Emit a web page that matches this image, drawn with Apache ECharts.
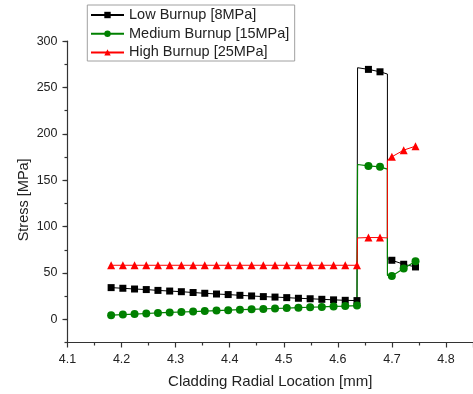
<!DOCTYPE html>
<html>
<head>
<meta charset="utf-8">
<script src="https://cdn.jsdelivr.net/npm/echarts@6/dist/echarts.min.js"></script>
<style>
html,body{margin:0;padding:0;background:#fff;}
#chart{width:473px;height:394px;}
</style>
</head>
<body>
<div id="chart"></div>
<script>
// Radial locations of the plotted (marker) points [mm]
const radius = [4.1807, 4.2024, 4.2240, 4.2457, 4.2673, 4.2890, 4.3106, 4.3323, 4.3539, 4.3756, 4.3972,
  4.4189, 4.4405, 4.4622, 4.4838, 4.5055, 4.5271, 4.5488, 4.5704, 4.5921, 4.6137, 4.6354,
  4.6566, 4.6780, 4.6999, 4.7218, 4.7437];
// Material interface locations [mm]
const interfaces = [4.6365, 4.6917];

// Stress values at marker points [MPa]
const lowBurnup = [34.2, 33.5, 32.7, 32.1, 31.2, 30.5, 29.8, 28.9, 28.1, 27.3, 26.7,
  25.9, 25.2, 24.5, 24.0, 23.4, 22.7, 22.2, 21.6, 21.0, 20.5, 20.2,
  269.6, 267.0, 63.7, 59.4, 56.5];
const mediumBurnup = [4.5, 5.1, 5.7, 6.3, 6.9, 7.4, 7.9, 8.4, 8.9, 9.4, 9.9,
  10.4, 10.8, 11.2, 11.7, 12.1, 12.6, 13.0, 13.4, 13.9, 14.3, 14.8,
  165.5, 164.5, 46.8, 54.7, 62.6];
const highBurnup = [58.3, 58.3, 58.3, 58.3, 58.3, 58.3, 58.3, 58.3, 58.3, 58.3, 58.3,
  58.3, 58.3, 58.3, 58.3, 58.3, 58.3, 58.3, 58.3, 58.3, 58.3, 58.3,
  88.2, 88.2, 175.3, 182.5, 186.8];

// Stress at the interfaces: [after interface 1, before interface 2, after interface 2]
const lowInterface = [271.4, 264.6, 65.5];
const mediumInterface = [167.0, 162.0, 47.5];
const highInterface = [87.8, 87.8, 171.7];

const seriesNames = ['Low Burnup [8MPa]', 'Medium Burnup [15MPa]', 'High Burnup [25MPa]'];
const yTickLabels = [0, 50, 100, 150, 200, 250, 300];

function buildData(vals, iface) {
  const out = [];
  for (let i = 0; i < 22; i++) out.push([radius[i], vals[i]]);
  out.push({ value: [interfaces[0], iface[0]], symbol: 'none' });
  out.push([radius[22], vals[22]]);
  out.push([radius[23], vals[23]]);
  out.push({ value: [interfaces[1], iface[1]], symbol: 'none' });
  out.push({ value: [interfaces[1], iface[2]], symbol: 'none' });
  for (let i = 24; i < radius.length; i++) out.push([radius[i], vals[i]]);
  return out;
}

const FONT = 'Liberation Sans, Arial, sans-serif';
const chart = echarts.init(document.getElementById('chart'), null, { renderer: 'canvas' });

const axisColor = '#333';
const textColor = '#222';

chart.setOption({
  animation: false,
  backgroundColor: '#fff',
  grid: { left: 67.5, top: 41.2, width: 410.7, height: 301.5, containLabel: false },
  legend: {
    orient: 'vertical',
    left: 87.3,
    top: 5,
    padding: [2.5, 5.3, 1.1, 2.7],
    itemGap: 3.7,
    itemWidth: 33,
    itemHeight: 8,
    borderColor: '#a0a0a0',
    borderWidth: 1,
    backgroundColor: '#fff',
    textStyle: { fontFamily: FONT, fontSize: 14.5, color: textColor, lineHeight: 15 },
    data: seriesNames
  },
  xAxis: {
    type: 'value',
    min: 4.1,
    max: 4.85,
    interval: 0.1,
    name: 'Cladding Radial Location [mm]',
    nameLocation: 'middle',
    nameGap: 31.5,
    nameMoveOverlap: false,
    nameTextStyle: { fontFamily: FONT, fontSize: 15, color: textColor },
    axisLine: { show: true, onZero: false, lineStyle: { color: axisColor, width: 1.2 } },
    axisTick: { show: true, inside: false, length: 5, lineStyle: { color: axisColor, width: 1.2 } },
    minorTick: { show: true, splitNumber: 2, length: 3, lineStyle: { color: axisColor, width: 1.2 } },
    axisLabel: {
      fontFamily: FONT, fontSize: 12.5, color: textColor, margin: 11,
      showMaxLabel: false,
      formatter: v => (Math.abs(v - 4.85) < 1e-6 ? '' : v.toFixed(1))
    },
    splitLine: { show: false }
  },
  yAxis: [{
    type: 'value',
    min: -25,
    max: 300,
    interval: 25,
    position: 'left',
    name: 'Stress [MPa]',
    nameLocation: 'middle',
    nameGap: 36,
    nameMoveOverlap: false,
    nameTextStyle: { fontFamily: FONT, fontSize: 14.5, color: textColor, padding: [0, 16, 0, 0] },
    axisLine: { show: true, onZero: false, lineStyle: { color: axisColor, width: 1.2 } },
    axisTick: { show: true, inside: false, length: 5, customValues: yTickLabels, lineStyle: { color: axisColor, width: 1.2 } },
    axisLabel: {
      fontFamily: FONT, fontSize: 12.5, color: textColor, margin: 10,
      customValues: yTickLabels,
      formatter: v => String(v)
    },
    splitLine: { show: false }
  }, {
    type: 'value',
    min: -25,
    max: 300,
    interval: 25,
    position: 'left',
    axisLine: { show: false, onZero: false },
    axisTick: { show: true, inside: false, length: 3, lineStyle: { color: axisColor, width: 1.2 } },
    axisLabel: { show: false },
    splitLine: { show: false }
  }],
  series: [{
    name: seriesNames[0],
    type: 'line',
    data: buildData(lowBurnup, lowInterface),
    symbol: 'rect',
    symbolSize: 7,
    showAllSymbol: true,
    color: '#000000',
    lineStyle: { color: '#000000', width: 1 },
    itemStyle: { color: '#000000' }
  }, {
    name: seriesNames[1],
    type: 'line',
    data: buildData(mediumBurnup, mediumInterface),
    symbol: 'circle',
    symbolSize: 8,
    showAllSymbol: true,
    color: '#008000',
    lineStyle: { color: '#008000', width: 1.2 },
    itemStyle: { color: '#008000' }
  }, {
    name: seriesNames[2],
    type: 'line',
    data: buildData(highBurnup, highInterface),
    symbol: 'triangle',
    symbolSize: 8,
    showAllSymbol: true,
    color: '#ff0000',
    lineStyle: { color: '#ff0000', width: 1 },
    itemStyle: { color: '#ff0000' }
  }]
});
</script>
</body>
</html>
